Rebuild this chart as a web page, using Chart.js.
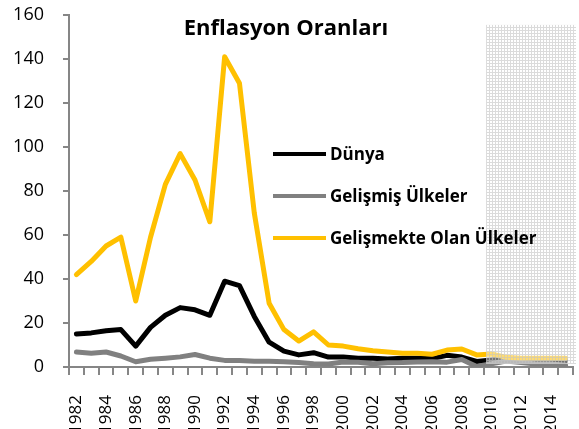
<!DOCTYPE html>
<html>
<head>
<meta charset="utf-8">
<script src="https://cdn.jsdelivr.net/npm/chart.js@4/dist/chart.umd.min.js"></script>
<style>
  html, body { margin: 0; padding: 0; background: #fff; overflow: hidden; }
  #wrap { width: 579px; height: 429px; }
</style>
</head>
<body>
<div id="wrap"><canvas id="chart" width="579" height="429"></canvas></div>
<script>
"use strict";

const years = ["1982","1983","1984","1985","1986","1987","1988","1989","1990","1991",
  "1992","1993","1994","1995","1996","1997","1998","1999","2000","2001",
  "2002","2003","2004","2005","2006","2007","2008","2009","2010","2011",
  "2012","2013","2014","2015"];

const dunya = [15, 15.5, 16.5, 17, 9.5, 18, 23.5, 27, 26, 23.5,
  39, 37, 23, 11.3, 7.2, 5.5, 6.5, 4.5, 4.6, 4, 4, 3.6, 4, 4, 3.8, 5.3, 4.5, 2.5, 3.2, 4,
  3.5, 3.2, 3, 2.8];

const gelismis = [6.8, 6.3, 6.8, 5, 2.4, 3.5, 4, 4.6, 5.7, 4, 3, 3, 2.6, 2.6, 2.4, 2, 1.5, 1.4,
  2.3, 2.2, 1.5, 1.9, 2, 2.3, 2.4, 2.2, 3.4, 0.2, 1.5, 2.7, 2, 1.4, 1.4, 0.8];

const gelismekte = [42, 48, 55, 59, 30, 59, 83, 97, 85, 66, 141, 129, 70, 29, 17, 11.8, 16,
  10, 9.5, 8.3, 7.4, 6.8, 6.3, 6.3, 5.8, 7.7, 8.2, 5.5, 5.9, 4.4, 4, 4, 4, 4];

const yTicks = [0, 20, 40, 60, 80, 100, 120, 140, 160];

const titleText = "Enflasyon Oranları";
const shadeStart = 28; // first projected year index (2010)

function makePattern() {
  let c = document.createElement("canvas");
  c.width = 3;
  c.height = 3;
  let g = c.getContext("2d");
  g.fillStyle = "rgba(255,255,255,0.45)";
  g.fillRect(0, 0, 3, 3);
  g.fillStyle = "rgba(195,195,195,0.6)";
  g.fillRect(0, 0, 3, 1);
  g.fillRect(0, 1, 1, 2);
  return g.createPattern(c, "repeat");
}

const overlayPlugin = {
  id: "overlay",
  afterDatasetsDraw(chart) {
    const ctx = chart.ctx;
    const x = chart.scales.x;
    const y = chart.scales.y;
    const area = chart.chartArea;
    // shaded forecast region
    const left = (x.getPixelForValue(shadeStart - 1) + x.getPixelForValue(shadeStart)) / 2 + 2;
    const top = y.getPixelForValue(155.5);
    ctx.save();
    ctx.fillStyle = makePattern();
    ctx.fillRect(left, top, 576 - left, area.bottom - 3 - top);
    ctx.restore();
  },
  afterDraw(chart) {
    const ctx = chart.ctx;
    ctx.save();
    // title
    ctx.fillStyle = "#000";
    ctx.font = "bold 22px 'Open Sans'";
    ctx.textAlign = "center";
    ctx.textBaseline = "middle";
    ctx.fillText(titleText, 286, 29);
    // legend
    const rows = [154, 196, 238];
    const sets = chart.data.datasets;
    ctx.font = "bold 17px 'Open Sans'";
    ctx.textAlign = "left";
    sets.forEach(function (ds, i) {
      ctx.strokeStyle = ds.borderColor;
      ctx.lineWidth = 4;
      ctx.beginPath();
      ctx.moveTo(273, rows[i]);
      ctx.lineTo(326, rows[i]);
      ctx.stroke();
      ctx.fillStyle = "#000";
      ctx.fillText(ds.label, 330, rows[i] + 1);
    });
    ctx.restore();
  }
};

const axisColor = "#868686";

new Chart(document.getElementById("chart"), {
  type: "line",
  data: {
    labels: years,
    datasets: [
      { label: "Dünya", data: dunya, borderColor: "#000000", order: 3 },
      { label: "Gelişmiş Ülkeler", data: gelismis, borderColor: "#808080", order: 2 },
      { label: "Gelişmekte Olan Ülkeler", data: gelismekte, borderColor: "#FFC000", order: 1 }
    ]
  },
  options: {
    responsive: false,
    animation: false,
    layout: { padding: { top: 0, right: 6, left: 0, bottom: 0 } },
    elements: {
      line: { borderWidth: 5, tension: 0, borderJoinStyle: "round", borderCapStyle: "round" },
      point: { radius: 0 }
    },
    plugins: {
      legend: { display: false },
      title: { display: false },
      tooltip: { enabled: false }
    },
    scales: {
      x: {
        offset: true,
        grid: { offset: true, drawOnChartArea: false, color: axisColor, lineWidth: 2, tickLength: 8 },
        border: { color: axisColor, width: 2 },
        afterFit: function (scale) {
          scale.height = 62;
          scale.paddingLeft = 0;
          scale.paddingRight = 0;
        },
        ticks: {
          autoSkip: false,
          minRotation: 90,
          maxRotation: 90,
          color: "#000",
          font: { family: "Open Sans", size: 17 },
          padding: 20,
          callback: function (v, i) { return i % 2 === 0 ? years[i] : ""; }
        }
      },
      y: {
        min: 0,
        max: 160,
        afterBuildTicks: function (axis) { axis.ticks = yTicks.map(v => ({ value: v })); },
        afterFit: function (scale) {
          scale.width = 69;
          scale.paddingTop = 15;
          scale.paddingBottom = 0;
        },
        grid: { drawOnChartArea: false, color: axisColor, lineWidth: 2, tickLength: 6 },
        border: { color: axisColor, width: 2 },
        ticks: {
          color: "#000",
          font: { family: "Open Sans", size: 18 },
          padding: 19
        }
      }
    }
  },
  plugins: [overlayPlugin]
});
</script>
</body>
</html>
